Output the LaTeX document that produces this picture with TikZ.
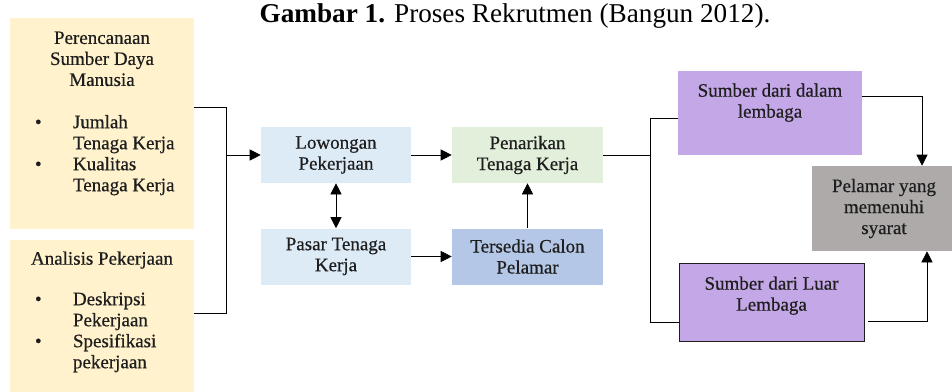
\documentclass[tikz,border=0pt]{standalone}
\usepackage{fontspec}
\setmainfont{Liberation Serif}
\newfontfamily\boxfont[FakeBold=0.5]{Liberation Serif}
\usetikzlibrary{arrows.meta}
\definecolor{cream}{HTML}{FFF2CC}
\definecolor{paleblue}{HTML}{DDEBF7}
\definecolor{palegreen}{HTML}{E2EFDA}
\definecolor{midblue}{HTML}{B4C7E7}
\definecolor{lilac}{HTML}{C4A7E7}
\definecolor{stone}{HTML}{AEAAAA}
\definecolor{ink}{HTML}{1E1E1E}
\begin{document}
\begin{tikzpicture}[x=1pt,y=-1pt]
	\useasboundingbox (0,0) rectangle (952,391);
	\node (title) at (515,16) {\fontsize{27.2}{30}\selectfont\textbf{Gambar 1.} Proses Rekrutmen (Bangun 2012).};
	\begin{scope}[every node/.style={font=\boxfont\fontsize{19}{21}\selectfont,text=ink,align=center},line width=0.6pt]
		\tikzstyle{box}=[draw=none,shape=rectangle,inner sep=0pt,minimum width=150pt,minimum height=56pt];
		\tikzstyle{lbl}=[below,inner sep=0pt];
		\tikzstyle{arr}=[-{Triangle[length=11pt,width=11pt]}];
		\path (102,123.5) node [box,fill=cream,minimum width=184pt,minimum height=211pt] (ppl) {};
		\path (102,316  ) node [box,fill=cream,minimum width=184pt,minimum height=152pt] (ana) {};
		\path (336,155  ) node [box,fill=paleblue]  (low) {Lowongan\\Pekerjaan};
		\path (336,256.5) node [box,fill=paleblue]  (pas) {Pasar Tenaga\\Kerja};
		\path (527.5,155) node [box,fill=palegreen,minimum width=151pt] (pen) {Penarikan\\Tenaga Kerja};
		\path (527.5,256.5) node [box,fill=midblue,minimum width=151pt] (ter) {Tersedia Calon\\Pelamar};
		\path (770,113  ) node [box,fill=lilac,minimum width=184pt,minimum height=84pt] (sd) {};
		\path (771.5,302) node [box,fill=lilac,draw=ink,minimum width=185pt,minimum height=78pt] (sl) {};
		\path (884,208.5) node [box,fill=stone,minimum width=144pt,minimum height=85pt] (pel) {Pelamar yang\\memenuhi\\syarat};
		\path (ppl.north) node [lbl,yshift=-13.5pt] (ppl-t) {Perencanaan\\Sumber Daya\\Manusia};
		\path (ppl.north west) node [lbl,below right,align=left,xshift=25pt,yshift=-95.5pt] (ppl-l) {%
			\begin{tabular}{@{}p{38pt}@{}l@{}}
				\textbullet & Jumlah\\ & Tenaga Kerja\\ \textbullet & Kualitas\\ & Tenaga Kerja
			\end{tabular}};
		\path (ana.north) node [lbl,yshift=-11.5pt] (ana-t) {Analisis Pekerjaan};
		\path (ana.north west) node [lbl,below right,align=left,xshift=25pt,yshift=-50.5pt] (ana-l) {%
			\begin{tabular}{@{}p{38pt}@{}l@{}}
				\textbullet & Deskripsi\\ & Pekerjaan\\ \textbullet & Spesifikasi\\ & pekerjaan
			\end{tabular}};
		\path (sd.north) node [lbl,yshift=-12.5pt] (sd-t) {Sumber dari dalam\\lembaga};
		\path (sl.north) node [lbl,yshift=-13.5pt] (sl-t) {Sumber dari Luar\\Lembaga};
		% junction points
		\coordinate (jt) at (226,107);
		\coordinate (jb) at (226,313);
		\coordinate (bu) at (650,118);
		\coordinate (bd) at (650,322);
		\coordinate (ct) at (922,96);
		\coordinate (cb) at (927,321);
		\draw (jt -| ppl.east) -- (jt) -- (jb) -- (jb -| ana.east);
		\draw[arr] (jt |- low) -- (low);
		\draw[arr] (low) -- (pen);
		\draw[arr] (pas) -- (ter);
		\draw[arr] (ter) -- (pen);
		\draw[{Triangle[length=11pt,width=11pt]}-{Triangle[length=11pt,width=11pt]}] (low) -- (pas);
		\draw (pen) -- (bu |- pen);
		\draw (bu -| sd.west) -- (bu) -- (bd) -- (bd -| sl.west);
		\draw[arr] (ct -| sd.east) -- (ct) -- (ct |- pel.north);
		\draw[arr] ([xshift=4pt]cb -| sl.east) -- (cb) -- (cb |- pel.south);
	\end{scope}
\end{tikzpicture}
\end{document}
